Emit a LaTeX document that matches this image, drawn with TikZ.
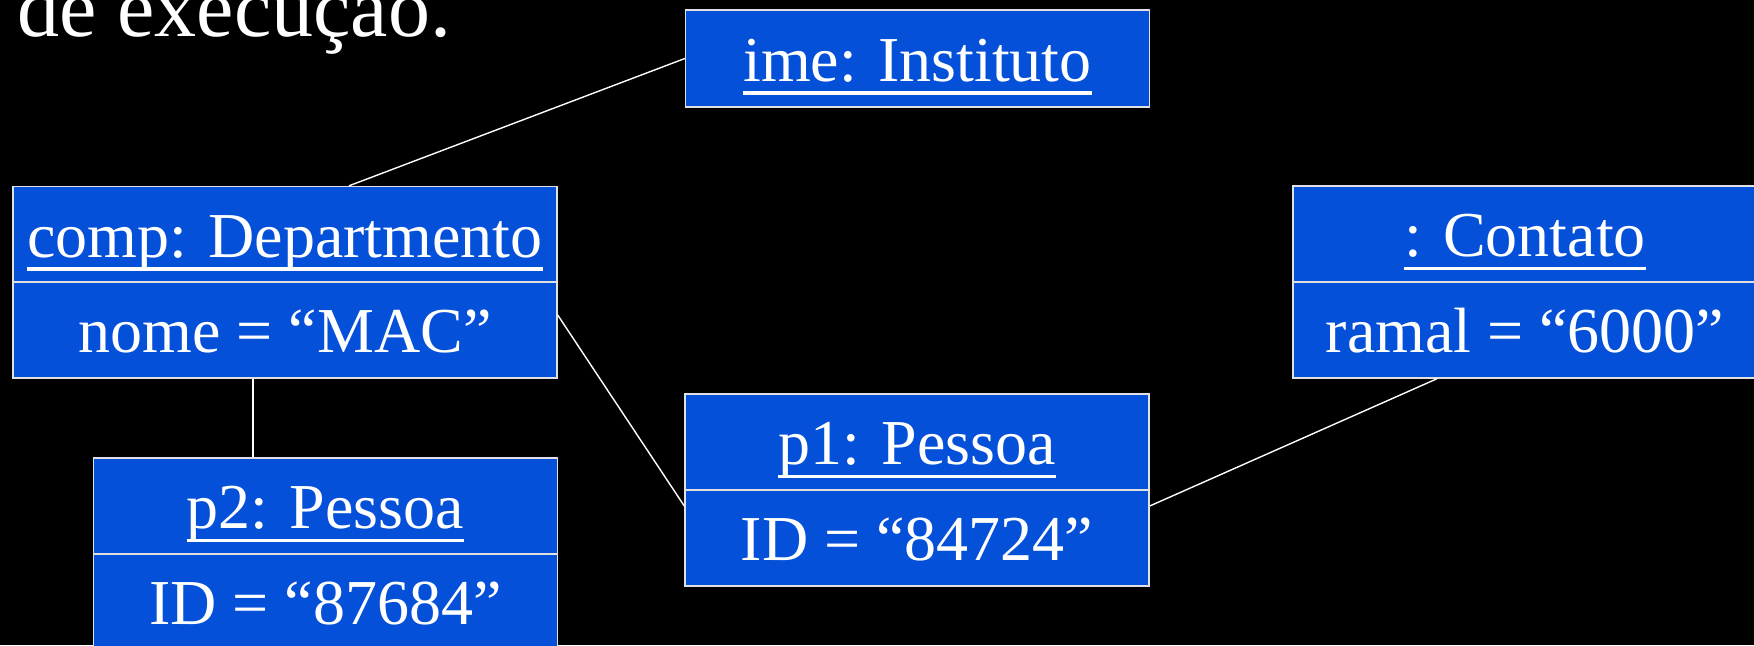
\documentclass[tikz,border=0pt]{standalone}
\usepackage{fontspec}
\setmainfont{Liberation Serif}
\definecolor{boxblue}{RGB}{4,80,216}
\definecolor{edgegray}{RGB}{225,225,225}
\newcommand\myul[1]{\setbox0\hbox{#1}\rlap{\vrule height -5.2pt depth 6.8pt width \wd0}\box0}
\begin{document}
\begin{tikzpicture}[x=0.5pt,y=-0.5pt,
  comp/.style={draw=edgegray,line width=0.7pt,fill=boxblue,text=white,
    minimum width=232pt,minimum height=48pt,inner sep=0pt,
    text height=22.5pt,text depth=0pt,
    font=\fontsize{32pt}{38pt}\selectfont},
  wide/.style={minimum width=272pt},
  link/.style={draw=white,line width=0.7pt}]
\fill[black] (0,0) rectangle (1754,645);
\useasboundingbox (0,0) rectangle (1754,645);
% heading
\node[anchor=base west,inner sep=0pt,text=white,font=\fontsize{42pt}{48pt}\selectfont] (head) at (17,36) {de execução.};
% ime: Instituto
\node[comp,minimum height=48.5pt] (instT) at (917.5,58.5) {\myul{ime: Instituto}};
% comp: Departmento
\node[comp,wide] (compT) at (285,234.5) {\myul{comp: Departmento}};
\node[comp,wide] (compA) at (285,330) {nome = “MAC”};
% p2: Pessoa
\node[comp] (p2T) at (325.5,506) {\myul{p2: Pessoa}};
\node[comp] (p2A) at (325.5,602) {ID = “87684”};
% p1: Pessoa
\node[comp] (p1T) at (917,442) {\myul{p1: Pessoa}};
\node[comp] (p1A) at (917,538) {ID = “84724”};
% : Contato
\node[comp] (ctT) at (1525,234) {\myul{: Contato}};
\node[comp] (ctA) at (1525,330) {ramal = “6000”};
% connectors
\draw[link] (instT.west) -- ([xshift=32pt]compT.north);
\draw[link] ([yshift=7.5pt]compA.east) -- ([yshift=16pt]p1A.west);
\draw[link] ([xshift=-16pt]compA.south) -- ([xshift=-16pt]compA.south |- p2T.north);
\draw[link] ([yshift=16pt]p1A.east) -- ([xshift=-44pt]ctA.south);
\end{tikzpicture}
\end{document}
